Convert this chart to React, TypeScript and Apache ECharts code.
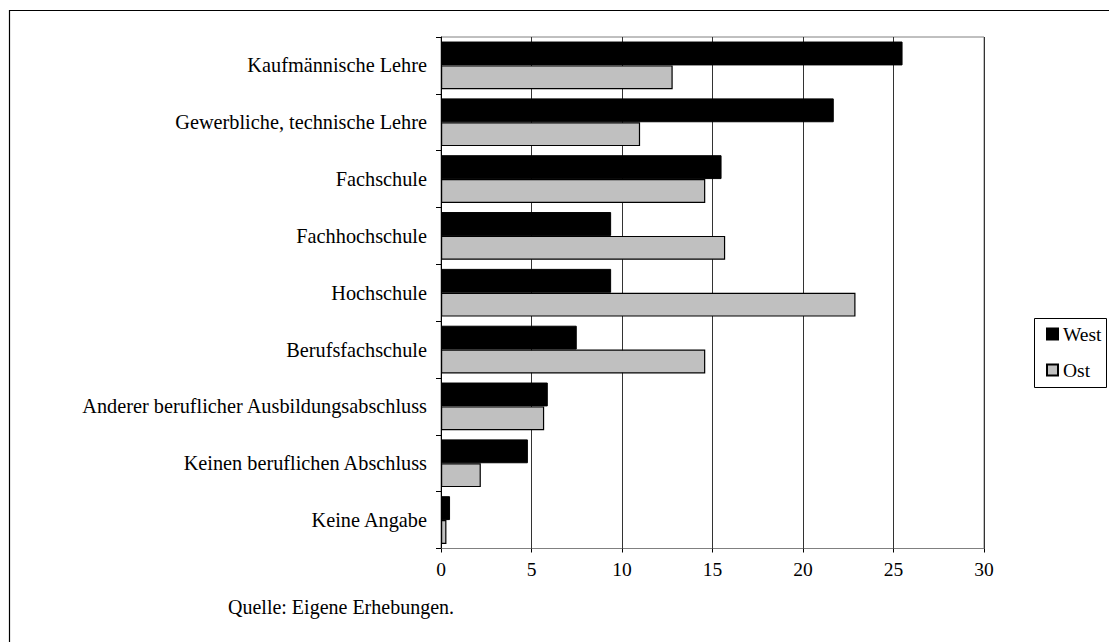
import React, { useEffect, useRef } from "react";
import * as echarts from "echarts";

const categories = [
  "Kaufmännische Lehre",
  "Gewerbliche, technische Lehre",
  "Fachschule",
  "Fachhochschule",
  "Hochschule",
  "Berufsfachschule",
  "Anderer beruflicher Ausbildungsabschluss",
  "Keinen beruflichen Abschluss",
  "Keine Angabe",
];
const westValues = [25.5, 21.7, 15.5, 9.4, 9.4, 7.5, 5.9, 4.8, 0.5];
const ostValues = [12.8, 11.0, 14.6, 15.7, 22.9, 14.6, 5.7, 2.2, 0.3];
const seriesNames = ["West", "Ost"];
const xTicks = { min: 0, max: 30, interval: 5 };
const sourceNote = "Quelle: Eigene Erhebungen.";

const FONT = "Liberation Serif";

export default function App() {
  const ref = useRef<HTMLDivElement>(null);
  useEffect(() => {
    if (!ref.current) return;
    const chart = echarts.init(ref.current, null, { renderer: "svg" });
    chart.setOption({
      animation: false,
      backgroundColor: "#ffffff",
      textStyle: { fontFamily: FONT },
      grid: {
        left: 441,
        top: 37,
        right: 125,
        bottom: 93.5,
        show: true,
        borderColor: "#808080",
        borderWidth: 1,
        containLabel: false,
      },
      xAxis: {
        type: "value",
        min: xTicks.min,
        max: xTicks.max,
        interval: xTicks.interval,
        axisLine: { show: true, lineStyle: { color: "#808080", width: 1 } },
        axisTick: { show: true, length: 4, lineStyle: { color: "#000" } },
        axisLabel: { color: "#000", fontSize: 19.5, fontFamily: FONT, margin: 11 },
        splitLine: { show: true, lineStyle: { color: "#333", width: 1 } },
      },
      yAxis: {
        type: "category",
        data: categories,
        inverse: true,
        axisLine: { show: true, lineStyle: { color: "#000", width: 1 } },
        axisTick: { show: true, length: 5, lineStyle: { color: "#000" } },
        axisLabel: { color: "#000", fontSize: 20.3, fontFamily: FONT, margin: 14 },
        splitLine: { show: false },
      },
      legend: {
        orient: "vertical",
        left: 1041,
        top: 319,
        itemWidth: 11,
        itemHeight: 11,
        itemGap: 16,
        icon: "rect",
        textStyle: { color: "#000", fontSize: 19.5, fontFamily: FONT },
        data: seriesNames,
      },
      graphic: [
        {
          type: "polyline",
          shape: { points: [[9.5, 642], [9.5, 10.5], [1109, 10.5]] },
          style: { stroke: "#000", lineWidth: 1.2, fill: "none" },
          silent: true,
        },
        {
          type: "rect",
          shape: { x: 1034.5, y: 318.5, width: 72, height: 69 },
          style: { stroke: "#000", lineWidth: 1, fill: "none" },
          silent: true,
        },
        {
          type: "text",
          x: 228,
          y: 607,
          style: {
            text: sourceNote,
            fill: "#000",
            fontSize: 20,
            fontFamily: FONT,
            textVerticalAlign: "middle",
          },
          silent: true,
        },
      ],
      series: [
        {
          name: seriesNames[0],
          type: "bar",
          data: westValues,
          barGap: "0%",
          barCategoryGap: "16%",
          itemStyle: { color: "#000000", borderColor: "#000", borderWidth: 1 },
        },
        {
          name: seriesNames[1],
          type: "bar",
          data: ostValues,
          barGap: "0%",
          barCategoryGap: "16%",
          itemStyle: { color: "#c0c0c0", borderColor: "#000", borderWidth: 1.2 },
        },
      ],
    });
    return () => chart.dispose();
  }, []);
  return (
    <div
      ref={ref}
      style={{ position: "fixed", left: 0, top: 0, width: 1109, height: 642, background: "#fff" }}
    />
  );
}
